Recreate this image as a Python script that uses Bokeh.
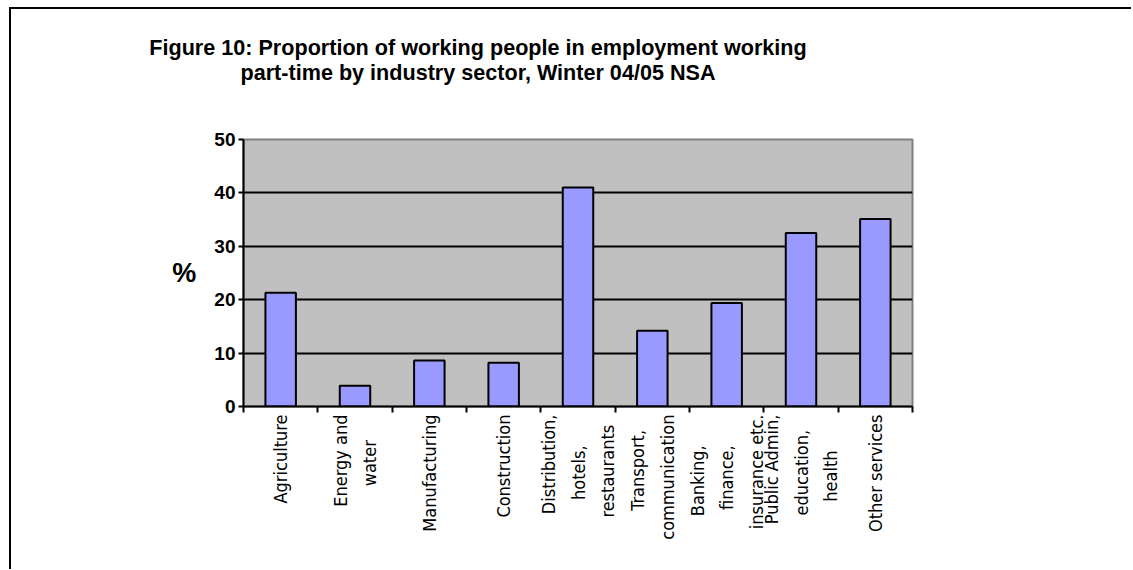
import math
from bokeh.plotting import figure
from bokeh.layouts import column
from bokeh.models import Range1d, FixedTicker, ColumnDataSource, Div
from bokeh.embed import file_html
from bokeh.resources import INLINE

# ---- data ----
categories = [
    "Agriculture",
    "Energy and\nwater",
    "Manufacturing",
    "Construction",
    "Distribution,\nhotels,\nrestaurants",
    "Transport,\ncommunication",
    "Banking,\nfinance,\ninsurance etc.",
    "Public Admin,\neducation,\nhealth",
    "Other services",
]
values = [21.3, 3.9, 8.6, 8.2, 41.0, 14.2, 19.4, 32.5, 35.1]
y_ticks = [0, 10, 20, 30, 40, 50]
title_lines = [
    "Figure 10: Proportion of working people in employment working",
    "part-time by industry sector, Winter 04/05 NSA",
]

n = len(categories)
centers = [i + 0.5 for i in range(n)]
bounds = [float(i) for i in range(n + 1)]


def centre_lines(label):
    # Bokeh aligns rotated multi-line tick labels to the axis side; pad the
    # shorter lines with no-break spaces so they sit centred in the block.
    lines = label.split("\n")
    m = max(len(s) for s in lines)
    return "\n".join(s + "\u00a0" * int(round((m - len(s)) * 0.95)) for s in lines)


src = ColumnDataSource(dict(x=centers, top=values))

title_div = Div(
    text=('<div style="width:700px;margin-left:117px;padding-top:26px;'
          'text-align:center;font-family:\'Liberation Sans\';font-weight:bold;'
          'font-size:21.6px;line-height:25px;color:#000;">'
          + "<br>".join(title_lines) + "</div>"),
    width=1120, height=100, margin=0)

p = figure(width=1120, height=460, output_backend="svg", toolbar_location=None,
           x_range=Range1d(0, n), y_range=Range1d(y_ticks[0], y_ticks[-1]),
           min_border_left=232, min_border_right=219,
           min_border_top=30, min_border_bottom=163, margin=0)

p.background_fill_color = "#C0C0C0"
p.border_fill_color = "white"
p.outline_line_color = "#808080"
p.outline_line_width = 2

p.vbar(x="x", top="top", width=0.41, source=src,
       fill_color="#9999FF", line_color="black", line_width=2)

# grid
p.xgrid.visible = False
p.ygrid.ticker = FixedTicker(ticks=y_ticks[1:-1])
p.ygrid.grid_line_color = "black"
p.ygrid.grid_line_width = 2

# y axis
ya = p.yaxis[0]
ya.ticker = FixedTicker(ticks=y_ticks)
ya.axis_line_color = "black"
ya.axis_line_width = 2
ya.major_tick_line_color = "black"
ya.major_tick_line_width = 2
ya.major_tick_out = 5
ya.major_tick_in = 0
ya.minor_tick_line_color = None
ya.major_label_standoff = 3
ya.major_label_text_font = "Liberation Sans"
ya.major_label_text_font_style = "bold"
ya.major_label_text_font_size = "19px"
ya.major_label_text_color = "black"
ya.axis_label = "%"
ya.axis_label_orientation = "horizontal"
ya.axis_label_text_font = "Liberation Sans"
ya.axis_label_text_font_style = "bold"
ya.axis_label_text_font_size = "27px"
ya.axis_label_standoff = 15
ya.axis_label_text_color = "black"

# x axis
xa = p.xaxis[0]
xa.ticker = FixedTicker(ticks=centers, minor_ticks=bounds)
xa.major_label_overrides = {c: centre_lines(lab) for c, lab in zip(centers, categories)}
xa.axis_line_color = "black"
xa.axis_line_width = 2
xa.major_tick_line_color = None
xa.major_tick_out = 0
xa.major_tick_in = 0
xa.minor_tick_line_color = "black"
xa.minor_tick_line_width = 2
xa.minor_tick_out = 6
xa.minor_tick_in = 0
xa.major_label_orientation = math.pi / 2
xa.major_label_standoff = 2
xa.major_label_text_font = "'DejaVu Sans Condensed', Roboto, sans-serif"
xa.major_label_text_font_size = "18px"
xa.major_label_text_color = "black"
xa.major_label_text_line_height = 1.4

layout = column(title_div, p, spacing=0, margin=(7, 0, 0, 9),
                styles={"border-top": "2px solid #000000",
                        "border-left": "2px solid #000000"})

open("out.html", "w").write(file_html(layout, INLINE))
